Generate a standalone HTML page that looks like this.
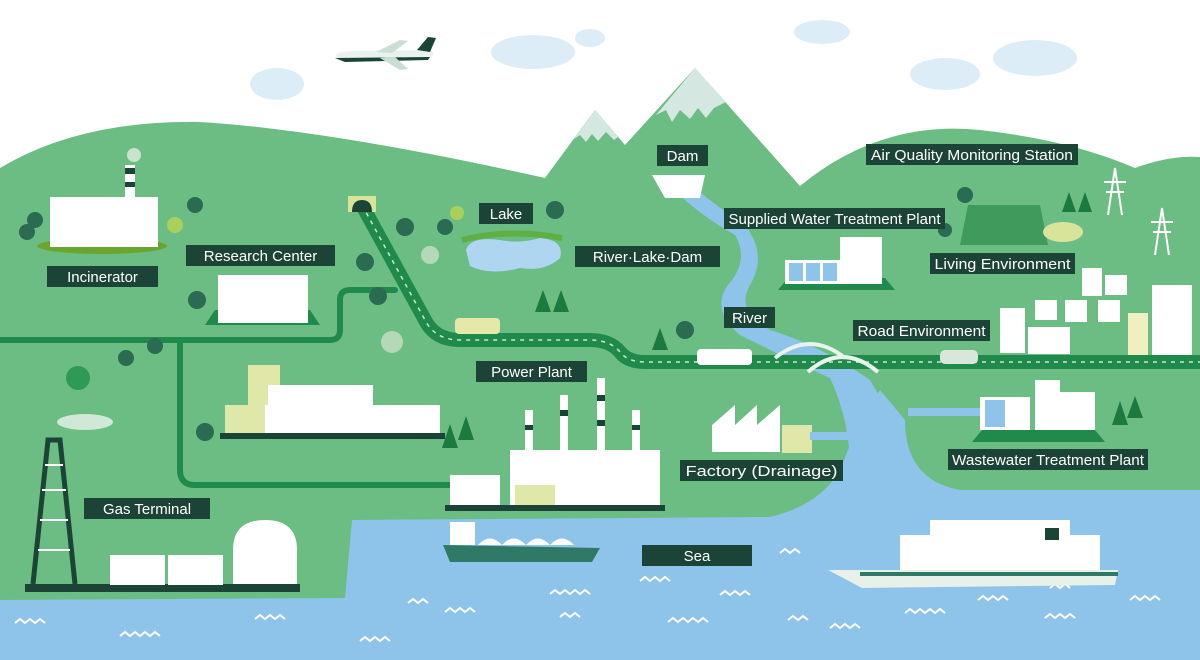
<!DOCTYPE html>
<html><head><meta charset="utf-8"><style>
html,body{margin:0;padding:0;background:#fff}
svg{display:block}
.lb rect{fill:#1b4436}
.lb text{fill:#fff;font-family:"Liberation Sans",sans-serif;font-size:15px}
</style></head><body>
<svg width="1200" height="660" viewBox="0 0 1200 660" xmlns="http://www.w3.org/2000/svg">
<rect width="1200" height="660" fill="#fff"/>
<!-- clouds -->
<g fill="#dcedf8">
<ellipse cx="277" cy="84" rx="27" ry="16"/><ellipse cx="533" cy="52" rx="42" ry="17"/><ellipse cx="590" cy="38" rx="15" ry="9"/>
<ellipse cx="822" cy="32" rx="28" ry="12"/><ellipse cx="945" cy="74" rx="35" ry="16"/><ellipse cx="1035" cy="58" rx="42" ry="18"/>
</g>
<!-- plane -->
<g><path d="M335 56 Q340 50 360 51 L430 50 Q436 53 430 58 L345 61 Z" fill="#e9f2ee"/><path d="M335 58 L430 57 L428 60 L345 62Z" fill="#1b4436"/><path d="M376 52 L400 40 L408 41 L392 53Z" fill="#c9dfd6"/><path d="M380 58 L400 70 L408 69 L395 57Z" fill="#c9dfd6"/><path d="M417 50 L428 37 L436 38 L430 52Z" fill="#1b4436"/></g>
<!-- hills -->
<path d="M0 168 Q80 120 200 122 Q330 130 545 178 L595 110 L625 145 L695 68 L800 186 Q880 120 980 130 Q1070 140 1135 168 Q1170 155 1200 157 L1200 660 L0 660Z" fill="#6cbd84"/>
<path d="M595 110 L574 139 L580 135 L586 142 L592 134 L598 141 L606 132 L614 140 L618 137Z" fill="#d4e7e0"/>
<path d="M695 68 L656 115 L666 110 L672 122 L680 110 L690 119 L698 108 L706 118 L714 108 L726 102Z" fill="#d4e7e0"/>
<!-- sea -->
<path d="M0 600 L345 598 L352 520 L770 517 Q820 505 840 470 L860 420 L880 390 L905 420 Q905 480 960 490 L1200 490 L1200 660 L0 660Z" fill="#8ec4ea"/>
<!-- river -->
<path d="M680 195 Q700 215 735 235 Q750 260 728 285 Q710 310 740 335 Q790 360 830 378 Q850 420 850 470 L900 470 Q895 420 870 380 Q820 345 770 330 Q735 310 750 285 Q768 255 745 225 Q715 205 700 192Z" fill="#8ec4ea"/>
<path d="M466 250 Q470 236 500 240 Q520 244 540 238 Q565 240 560 258 Q545 272 520 268 Q490 276 470 266Z" fill="#aed6f0"/>
<path d="M462 240 Q510 228 562 238" stroke="#5fb043" stroke-width="6" fill="none"/>
<!-- waves -->
<g stroke="#fff" stroke-width="2" fill="none">
<path d="M15 623 l5-4 5 4 5-4 5 4 5-4 5 4"/><path d="M120 636 l5-4 5 4 5-4 5 4 5-4 5 4 5-4 5 4"/><path d="M255 619 l5-4 5 4 5-4 5 4 5-4 5 4"/><path d="M360 641 l5-4 5 4 5-4 5 4 5-4 5 4"/><path d="M408 603 l5-4 5 4 5-4 5 4"/><path d="M445 612 l5-4 5 4 5-4 5 4 5-4 5 4"/><path d="M550 594 l5-4 5 4 5-4 5 4 5-4 5 4 5-4 5 4"/><path d="M560 617 l5-4 5 4 5-4 5 4"/><path d="M640 581 l5-4 5 4 5-4 5 4 5-4 5 4"/><path d="M668 622 l5-4 5 4 5-4 5 4 5-4 5 4 5-4 5 4"/><path d="M720 595 l5-4 5 4 5-4 5 4 5-4 5 4"/><path d="M788 620 l5-4 5 4 5-4 5 4"/><path d="M780 553 l5-4 5 4 5-4 5 4"/><path d="M830 628 l5-4 5 4 5-4 5 4 5-4 5 4"/><path d="M905 613 l5-4 5 4 5-4 5 4 5-4 5 4 5-4 5 4"/><path d="M978 600 l5-4 5 4 5-4 5 4 5-4 5 4"/><path d="M1045 618 l5-4 5 4 5-4 5 4 5-4 5 4"/><path d="M1050 588 l5-4 5 4 5-4 5 4"/><path d="M1130 600 l5-4 5 4 5-4 5 4 5-4 5 4"/><path d="M850 577 l5-4 5 4 5-4 5 4 5-4 5 4 5-4 5 4 5-4 5 4 5-4 5 4 5-4 5 4 5-4 5 4 5-4 5 4 5-4 5 4 5-4 5 4 5-4 5 4 5-4 5 4 5-4 5 4"/>
</g>
<!-- roads -->
<g fill="none" stroke="#1f8a4c" stroke-linecap="round" stroke-linejoin="round">
<path d="M0 340 L330 340 Q340 340 340 330 L340 300 Q340 290 350 290 L395 290" stroke-width="6"/>
<path d="M180 340 L180 470 Q180 485 195 485 L450 485" stroke-width="6"/>
<path d="M362 205 L425 320 Q435 340 460 340 L590 340 Q610 340 620 352 Q628 362 645 362 L1200 362" stroke-width="14"/>
</g>
<path d="M362 205 L425 320 Q435 340 460 340 L590 340 Q610 340 620 352 Q628 362 645 362 L1200 362" fill="none" stroke="#cde8c5" stroke-width="1.5" stroke-dasharray="4 5"/>
<!-- tunnel -->
<rect x="348" y="196" width="28" height="16" fill="#d8e49a"/><path d="M352 212 Q352 200 362 200 Q372 200 372 212Z" fill="#1b4436"/>
<!-- bridge -->
<g fill="none" stroke="#e8f3ec" stroke-width="4"><path d="M775 358 Q810 330 845 358"/><path d="M808 372 Q842 342 878 372"/></g>
<!-- trees -->
<g fill="#2a6b52">
<circle cx="27" cy="232" r="8"/><circle cx="35" cy="220" r="8"/><circle cx="195" cy="205" r="8"/><circle cx="197" cy="300" r="9"/><circle cx="155" cy="346" r="8"/><circle cx="126" cy="358" r="8"/><circle cx="378" cy="296" r="9"/><circle cx="365" cy="262" r="9"/><circle cx="405" cy="227" r="9"/><circle cx="445" cy="227" r="8"/><circle cx="555" cy="210" r="9"/><circle cx="205" cy="432" r="9"/><circle cx="685" cy="330" r="9"/><circle cx="965" cy="195" r="8"/><circle cx="945" cy="230" r="7"/>
</g>
<g fill="#1a7a40"><path d="M535 312 l8-22 8 22z"/><path d="M553 312 l8-22 8 22z"/><path d="M652 350 l8-22 8 22z"/><path d="M442 448 l8-24 8 24z"/><path d="M458 440 l8-24 8 24z"/><path d="M1062 212 l7-20 7 20z"/><path d="M1078 212 l7-20 7 20z"/><path d="M1112 425 l8-24 8 24z"/><path d="M1127 418 l8-22 8 22z"/></g>
<circle cx="78" cy="378" r="12" fill="#2e9a55"/><circle cx="392" cy="342" r="11" fill="#b4d9b7"/><circle cx="430" cy="255" r="9" fill="#b4d9b7"/><circle cx="175" cy="225" r="8" fill="#a8d05a"/><circle cx="457" cy="213" r="7" fill="#a8d05a"/>
<!-- incinerator -->
<ellipse cx="102" cy="246" rx="65" ry="8" fill="#6aa530"/>
<rect x="50" y="197" width="108" height="50" fill="#fff"/><rect x="125" y="165" width="10" height="35" fill="#fff"/><rect x="125" y="168" width="10" height="6" fill="#1b4436"/><rect x="125" y="182" width="10" height="5" fill="#1b4436"/>
<circle cx="134" cy="155" r="7" fill="#c8e2cc"/>
<!-- research center -->
<path d="M205 325 L215 310 L310 310 L320 325Z" fill="#1f8a4c"/><rect x="218" y="275" width="90" height="48" fill="#fff"/>
<!-- big building left -->
<rect x="248" y="365" width="32" height="70" fill="#dfe8a8"/><rect x="268" y="385" width="105" height="50" fill="#fff"/><rect x="225" y="405" width="215" height="30" fill="#fff"/><rect x="225" y="405" width="40" height="30" fill="#dfe8a8"/><rect x="220" y="433" width="225" height="6" fill="#1b4436"/>
<!-- power plant -->
<rect x="445" y="505" width="220" height="6" fill="#1b4436"/>
<rect x="450" y="475" width="50" height="30" fill="#fff"/><rect x="510" y="450" width="150" height="55" fill="#fff"/>
<rect x="525" y="410" width="8" height="50" fill="#fff"/><rect x="560" y="395" width="8" height="65" fill="#fff"/><rect x="597" y="378" width="8" height="82" fill="#fff"/><rect x="632" y="410" width="8" height="50" fill="#fff"/>
<g fill="#1b4436"><rect x="560" y="410" width="8" height="6"/><rect x="597" y="395" width="8" height="6"/><rect x="597" y="420" width="8" height="6"/><rect x="525" y="425" width="8" height="5"/><rect x="632" y="425" width="8" height="5"/></g>
<rect x="515" y="485" width="40" height="20" fill="#dfe8a8"/>
<!-- factory -->
<path d="M712 452 L712 425 L735 405 L735 425 L757 405 L757 425 L780 405 L780 452Z" fill="#fff"/><rect x="782" y="425" width="30" height="28" fill="#dfe8a8"/><rect x="810" y="432" width="40" height="8" fill="#8ec4ea"/>
<!-- dam -->
<path d="M652 175 L705 175 L700 198 L665 198Z" fill="#fff"/>
<!-- supplied water plant -->
<path d="M778 290 L788 278 L885 278 L895 290Z" fill="#1f8a4c"/><rect x="785" y="260" width="55" height="24" fill="#fff"/><rect x="789" y="263" width="14" height="18" fill="#8ec4ea"/><rect x="806" y="263" width="14" height="18" fill="#8ec4ea"/><rect x="823" y="263" width="14" height="18" fill="#8ec4ea"/><rect x="840" y="237" width="42" height="47" fill="#fff"/>
<!-- fields -->
<path d="M960 245 L1048 245 L1040 205 L968 205Z" fill="#3f9a5c"/><ellipse cx="1063" cy="232" rx="20" ry="10" fill="#d8e49a"/>
<!-- pylons -->
<g stroke="#fff" stroke-width="2" fill="none"><path d="M1108 215 L1115 168 L1122 215 M1104 182 L1126 182 M1106 192 L1124 192"/><path d="M1155 255 L1162 208 L1169 255 M1151 222 L1173 222 M1153 232 L1171 232"/></g>
<!-- city -->
<g fill="#fff"><rect x="1000" y="308" width="25" height="45"/><rect x="1028" y="327" width="42" height="27"/><rect x="1035" y="300" width="22" height="20"/><rect x="1065" y="300" width="22" height="22"/><rect x="1098" y="300" width="22" height="22"/><rect x="1082" y="268" width="20" height="28"/><rect x="1105" y="275" width="22" height="20"/><rect x="1152" y="285" width="40" height="70"/></g>
<rect x="1128" y="313" width="20" height="42" fill="#f0efc0"/>
<!-- wastewater -->
<path d="M972 442 L982 430 L1095 430 L1105 442Z" fill="#1f8a4c"/><rect x="980" y="397" width="50" height="33" fill="#fff"/><rect x="985" y="400" width="20" height="27" fill="#8ec4ea"/><rect x="1035" y="380" width="25" height="50" fill="#fff"/><rect x="1058" y="392" width="37" height="38" fill="#fff"/><rect x="908" y="408" width="72" height="8" fill="#8ec4ea"/>
<!-- cars -->
<rect x="455" y="318" width="45" height="16" rx="4" fill="#e4e8a8"/><rect x="697" y="349" width="55" height="16" rx="4" fill="#fff"/><rect x="940" y="350" width="38" height="14" rx="5" fill="#d9e6dc"/>
<!-- gas terminal -->
<rect x="25" y="584" width="275" height="8" fill="#1b4436"/>
<path d="M33 584 L48 440 L60 440 L75 584" fill="none" stroke="#1b4436" stroke-width="5"/>
<g stroke="#fff" stroke-width="2"><path d="M40 520 L68 520 M42 490 L66 490 M45 465 L63 465 M38 550 L70 550"/></g>
<ellipse cx="85" cy="422" rx="28" ry="8" fill="#d0e8d6"/>
<rect x="110" y="555" width="55" height="30" fill="#fff"/><rect x="168" y="555" width="55" height="30" fill="#fff"/>
<path d="M233 584 L233 550 Q233 520 265 520 Q297 520 297 550 L297 584Z" fill="#fff"/>
<!-- ships -->
<path d="M443 545 L600 548 L592 562 L450 562Z" fill="#2e7a66"/><rect x="450" y="522" width="25" height="23" fill="#fff"/><path d="M478 545 Q490 532 502 545 Q514 532 526 545 Q538 532 550 545 Q562 532 574 545 Z" fill="#fff"/>
<path d="M828 570 L1118 570 L1115 585 L862 588Z" fill="#e8f0ea"/><rect x="900" y="535" width="200" height="35" fill="#fff"/><rect x="930" y="520" width="140" height="16" fill="#fff"/><rect x="1045" y="528" width="14" height="12" fill="#1b4436"/><rect x="860" y="572" width="258" height="4" fill="#2e7a66"/>
<!-- labels -->
<g class="lb">
<rect x="47" y="266" width="111" height="21"/><text x="102.5" y="282" text-anchor="middle">Incinerator</text>
<rect x="186" y="245" width="149" height="21"/><text x="260.5" y="261" text-anchor="middle">Research Center</text>
<rect x="479" y="203" width="54" height="21"/><text x="506" y="219" text-anchor="middle">Lake</text>
<rect x="575" y="246" width="145" height="21"/><text x="647.5" y="262" text-anchor="middle">River·Lake·Dam</text>
<rect x="657" y="145" width="51" height="21"/><text x="682.5" y="161" text-anchor="middle">Dam</text>
<rect x="866" y="144" width="212" height="21"/><text x="972" y="160" text-anchor="middle" textLength="202" lengthAdjust="spacingAndGlyphs">Air Quality Monitoring Station</text>
<rect x="724" y="208" width="221" height="21"/><text x="834.5" y="224" text-anchor="middle" textLength="212" lengthAdjust="spacingAndGlyphs">Supplied Water Treatment Plant</text>
<rect x="930" y="253" width="145" height="21"/><text x="1002.5" y="269" text-anchor="middle" textLength="136" lengthAdjust="spacingAndGlyphs">Living Environment</text>
<rect x="724" y="307" width="51" height="21"/><text x="749.5" y="323" text-anchor="middle">River</text>
<rect x="853" y="320" width="137" height="21"/><text x="921.5" y="336" text-anchor="middle" textLength="128" lengthAdjust="spacingAndGlyphs">Road Environment</text>
<rect x="476" y="361" width="111" height="21"/><text x="531.5" y="377" text-anchor="middle">Power Plant</text>
<rect x="680" y="460" width="163" height="21"/><text x="761.5" y="476" text-anchor="middle" textLength="152" lengthAdjust="spacingAndGlyphs">Factory (Drainage)</text>
<rect x="948" y="449" width="200" height="21"/><text x="1048" y="465" text-anchor="middle" textLength="192" lengthAdjust="spacingAndGlyphs">Wastewater Treatment Plant</text>
<rect x="84" y="498" width="126" height="21"/><text x="147" y="514" text-anchor="middle">Gas Terminal</text>
<rect x="642" y="545" width="110" height="21"/><text x="697" y="561" text-anchor="middle">Sea</text>
</g>
</svg>
</body></html>
